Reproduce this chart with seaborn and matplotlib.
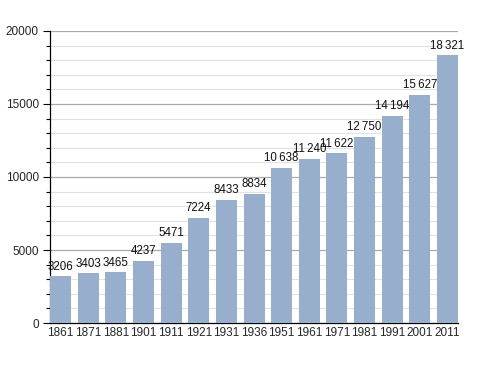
import matplotlib
matplotlib.use("Agg")
import matplotlib.pyplot as plt
import seaborn as sns
import pandas as pd
from matplotlib.ticker import MultipleLocator

years = ["1861", "1871", "1881", "1901", "1911", "1921", "1931", "1936",
         "1951", "1961", "1971", "1981", "1991", "2001", "2011"]
population = [3206, 3403, 3465, 4237, 5471, 7224, 8433, 8834,
              10638, 11240, 11622, 12750, 14194, 15627, 18321]

df = pd.DataFrame({"year": years, "pop": population})

sns.set_style("white")
plt.rcParams["font.family"] = ["Liberation Sans", "DejaVu Sans"]

fig = plt.figure(figsize=(4.88, 3.73), dpi=100)
ax = fig.add_axes([0.1025, 0.134, 0.836, 0.783])

bw = 0.76
sns.barplot(data=df, x="year", y="pop", color="#97afcc", saturation=1,
            width=bw, linewidth=0, ax=ax, zorder=3)

# population labels over the bars, thousands split by a thin space
for i, v in enumerate(population):
    txt = f"{v:,}".replace(",", "\u2009") if v >= 10000 else str(v)
    ax.text(i, v + 250, txt, ha="center", va="bottom", fontsize=8.3,
            color="#111111", zorder=4)

ax.set_xlim(-bw / 2, len(years) - 1 + bw / 2)
ax.set_ylim(0, 20000)
ax.yaxis.set_major_locator(MultipleLocator(5000))
ax.yaxis.set_minor_locator(MultipleLocator(1000))
ax.grid(axis="y", which="minor", color="#e2e2e2", linewidth=0.8, zorder=0)
ax.grid(axis="y", which="major", color="#aaaaaa", linewidth=0.9, zorder=1)
ax.grid(axis="x", visible=False)

for s in ["top", "right"]:
    ax.spines[s].set_visible(False)
ax.spines["left"].set_color("black")
ax.spines["bottom"].set_color("black")
ax.spines["left"].set_linewidth(0.9)
ax.spines["bottom"].set_linewidth(0.9)

ax.tick_params(axis="y", which="major", length=5, width=0.8, labelsize=8.5,
               left=True, color="black", pad=3)
ax.tick_params(axis="y", which="minor", length=3, width=0.8, left=True,
               color="black")
ax.tick_params(axis="x", length=0, labelsize=8.5, pad=3)
ax.set_xlabel("")
ax.set_ylabel("")

fig.savefig("out.png", dpi=100)
